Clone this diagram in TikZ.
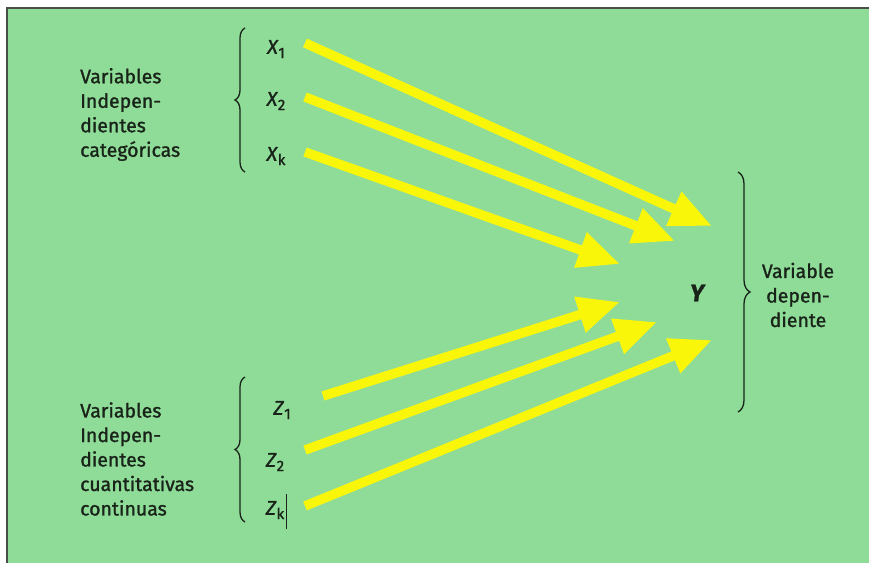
\documentclass[tikz,border=0pt]{standalone}
\usepackage{fontspec}
\setmainfont{Fira Sans}[FakeBold=1.2]
\usetikzlibrary{arrows.meta,decorations.pathreplacing}
\definecolor{bggreen}{RGB}{142,220,151}
\definecolor{arrowyellow}{RGB}{250,246,10}
\definecolor{inkdark}{RGB}{25,35,25}
\tikzset{
  yarrow/.style={draw=arrowyellow, line width=9.5pt, -{Triangle[length=42pt,width=35pt]}},
  lbl/.style={text=inkdark, font=\fontsize{19.5}{24.5}\selectfont, align=left, inner sep=0pt},
  varlbl/.style={text=inkdark, font=\fontsize{20}{22}\selectfont, inner sep=0pt},
  bracedeco/.style={draw=inkdark, line width=1.3pt, decorate, decoration={brace, amplitude=#1}},
}
\newcommand{\vsub}[2]{{\itshape #1}\kern0.5pt\raisebox{-0.4ex}{\fontsize{15}{15}\selectfont #2}}
\begin{document}
\begin{tikzpicture}[x=1pt,y=-1pt]
\useasboundingbox (0,0) rectangle (869,563);
\fill[white] (0,0) rectangle (869,563);
\fill[bggreen] (7,8) rectangle (869,563);
\draw[inkdark!80, line width=1.2pt] (7,563) -- (7,8) -- (869,8);

% left texts
\node[lbl, anchor=west] (cat) at (80,114.5) {Variables\\Indepen-\\dientes\\categóricas};
\node[lbl, anchor=west] (cuant) at (80,459) {Variables\\Indepen-\\dientes\\cuantitativas\\continuas};

% braces
\draw[bracedeco=10pt] (245,172) -- (245,28) coordinate (btop);
\draw[bracedeco=10pt] (245,522) -- (245,377) coordinate (bbot);
\draw[bracedeco=12pt] (738,172) -- (738,412) coordinate (bright);

% variable labels
\node[varlbl] (x1) at (276,49) {\vsub{X}{1}};
\node[varlbl] (x2) at (276,101) {\vsub{X}{2}};
\node[varlbl] (xk) at (276,156) {\vsub{X}{k}};
\node[varlbl] (z1) at (282,410) {\vsub{Z}{1}};
\node[varlbl] (z2) at (275,462) {\vsub{Z}{2}};
\node[varlbl] (zk) at (275,510) {\vsub{Z}{k}};
\draw[inkdark, line width=0.9pt] (286,494) -- (286,529);

\node[varlbl, font=\fontsize{24}{24}\selectfont\bfseries\itshape] (y) at (697,293) {Y};
\node[lbl, align=center, anchor=center] (dep) at (798,295) {Variable\\depen-\\diente};

% arrow coordinates
\coordinate (a1s) at (305,43);  \coordinate (a1e) at (712,226);
\coordinate (a2s) at (305,97);  \coordinate (a2e) at (675,241);
\coordinate (a3s) at (305,152); \coordinate (a3e) at (620,264);
\coordinate (a4s) at (323,396); \coordinate (a4e) at (620,302);
\coordinate (a5s) at (305,450); \coordinate (a5e) at (657,322);
\coordinate (a6s) at (305,506); \coordinate (a6e) at (712,340);

\foreach \i in {1,...,6} {\draw[yarrow] (a\i s) -- (a\i e);}
\end{tikzpicture}
\end{document}
